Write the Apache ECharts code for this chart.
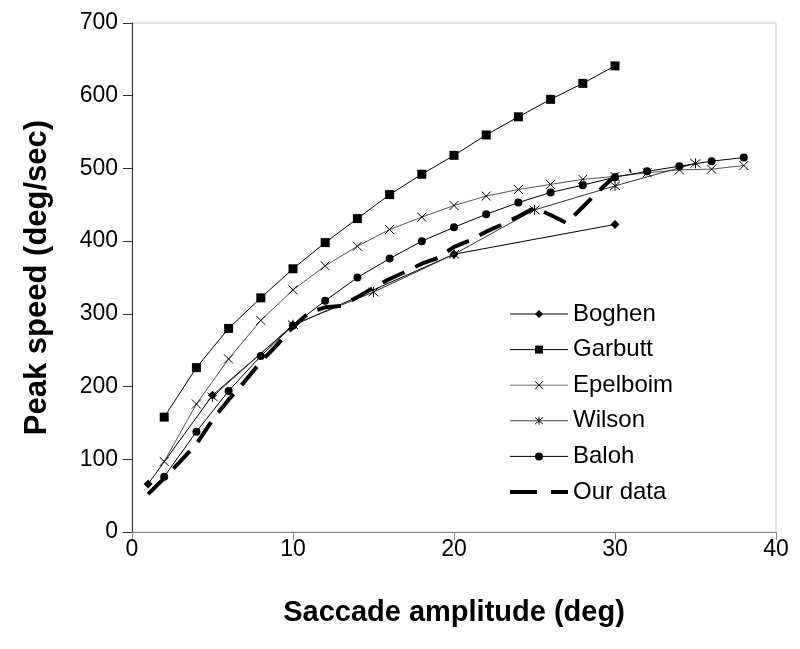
<!DOCTYPE html>
<html><head><meta charset="utf-8">
<script src="https://cdn.jsdelivr.net/npm/echarts@6/dist/echarts.min.js"></script>
<style>html,body{margin:0;padding:0;background:#fff}#c{width:800px;height:649px}</style>
</head><body><div id="c"></div>
<script>
const boghenX = [1, 5, 10, 20, 30];
const boghenY = [66, 188, 284, 382, 423];
const garbuttX = [2, 4, 6, 8, 10, 12, 14, 16, 18, 20, 22, 24, 26, 28, 30];
const garbuttY = [158, 226, 280, 322, 362, 398, 431, 464, 492, 518, 546, 571, 595, 617, 641];
const epelboimX = [2, 4, 6, 8, 10, 12, 14, 16, 18, 20, 22, 24, 26, 28, 30, 32, 34, 36, 38];
const epelboimY = [97, 176, 238, 291, 333, 366, 393, 416, 433, 449, 462, 471, 478, 485, 489, 494, 498, 499, 504];
const wilsonX = [5, 10, 15, 20, 25, 30, 35];
const wilsonY = [186, 285, 330, 382, 443, 476, 507];
const balohX = [2, 4, 6, 8, 10, 12, 14, 16, 18, 20, 22, 24, 26, 28, 30, 32, 34, 36, 38];
const balohY = [76, 138, 194, 242, 284, 318, 350, 376, 400, 419, 437, 453, 467, 477, 488, 496, 503, 510, 515];
const ourX = [1, 2, 3, 4, 5, 6, 7, 8, 9, 10, 11, 12, 13, 14, 15, 16, 17, 18, 19, 20, 21, 22, 23, 24, 25, 26, 27, 28, 29, 30, 31];
const ourY = [52, 74, 97, 121, 154, 182, 207, 234, 257, 282, 302, 309, 311, 323, 336, 348, 358, 369, 377, 392, 401, 413, 423, 434, 446, 436, 425, 447, 469, 490, 497];
const seriesNames = ['Boghen', 'Garbutt', 'Epelboim', 'Wilson', 'Baloh', 'Our data'];
const xTicks = { min: 0, max: 40, step: 10 };
const yTicks = { min: 0, max: 700, step: 100 };

function pairs(xs, ys) { return xs.map((x, i) => [x, ys[i]]); }
const FONT = "'Liberation Sans', Arial, sans-serif";
const crossPath = 'path://M0,0L10,10M10,0L0,10';
const starPath = 'path://M0,0L10,10M10,0L0,10M5,-1L5,11';

function thin(name, xs, ys, symbol, size, lineColor, stroked) {
  return {
    name: name, type: 'line', data: pairs(xs, ys),
    symbol: symbol, symbolSize: size, showSymbol: true,
    lineStyle: { color: lineColor, width: 1 },
    itemStyle: stroked ? { color: 'rgba(0,0,0,0)', borderColor: '#000', borderWidth: 1 } : { color: '#000', borderWidth: 0 },
    emphasis: { disabled: true }, animation: false, z: 2
  };
}

const chart = echarts.init(document.getElementById('c'), null, { renderer: 'canvas' });
chart.setOption({
  backgroundColor: '#fff',
  animation: false,
  grid: { left: 132, right: 24, top: 23, bottom: 117, show: true, borderColor: '#c8c8c8', borderWidth: 1, backgroundColor: 'transparent' },
  xAxis: {
    type: 'value', min: xTicks.min, max: xTicks.max, interval: xTicks.step,
    name: 'Saccade amplitude (deg)', nameLocation: 'middle', nameGap: 66,
    nameTextStyle: { fontFamily: FONT, fontSize: 29, fontWeight: 'bold', color: '#000' },
    axisLine: { show: true, lineStyle: { color: '#868686', width: 1 } },
    axisTick: { show: true, inside: false, length: 8, lineStyle: { color: '#868686' } },
    axisLabel: { fontFamily: FONT, fontSize: 23, color: '#000', margin: 6 },
    splitLine: { show: false }
  },
  yAxis: {
    type: 'value', min: yTicks.min, max: yTicks.max, interval: yTicks.step,
    name: 'Peak speed (deg/sec)', nameLocation: 'middle', nameGap: 79, nameRotate: 90,
    nameTextStyle: { fontFamily: FONT, fontSize: 31, fontWeight: 'bold', color: '#000' },
    axisLine: { show: true, lineStyle: { color: '#333', width: 1 } },
    axisTick: { show: true, inside: false, length: 9, lineStyle: { color: '#333' } },
    axisLabel: { fontFamily: FONT, fontSize: 23, color: '#000', margin: 14 },
    splitLine: { show: false }
  },
  legend: {
    orient: 'vertical', left: 503, top: 296,
    itemWidth: 58, itemHeight: 10, itemGap: 9.6,
    textStyle: { fontFamily: FONT, fontSize: 24, color: '#000', lineHeight: 26 },
    selectedMode: false,
    data: [
      { name: 'Boghen', lineStyle: { width: 1, color: '#000' } },
      { name: 'Garbutt', lineStyle: { width: 1, color: '#000' } },
      { name: 'Epelboim', lineStyle: { width: 1.5, color: '#999' }, itemStyle: { color: 'rgba(0,0,0,0)', borderColor: '#000', borderWidth: 1 } },
      { name: 'Wilson', lineStyle: { width: 1, color: '#444' }, itemStyle: { color: 'rgba(0,0,0,0)', borderColor: '#000', borderWidth: 1 } },
      { name: 'Baloh', lineStyle: { width: 1, color: '#000' } },
      { name: 'Our data', lineStyle: { width: 4, color: '#000', type: [27, 14] }, itemStyle: { color: 'rgba(0,0,0,0)', borderWidth: 0 } }
    ]
  },
  series: [
    thin(seriesNames[0], boghenX, boghenY, 'diamond', 9, '#000', false),
    thin(seriesNames[1], garbuttX, garbuttY, 'rect', 9, '#000', false),
    thin(seriesNames[2], epelboimX, epelboimY, crossPath, 9, '#555', true),
    thin(seriesNames[3], wilsonX, wilsonY, starPath, 10, '#333', true),
    thin(seriesNames[4], balohX, balohY, 'circle', 8, '#000', false),
    {
      name: seriesNames[5], type: 'line', data: pairs(ourX, ourY),
      symbol: 'none', showSymbol: false,
      lineStyle: { color: '#000', width: 4, type: [24, 12] },
      itemStyle: { color: '#000' },
      emphasis: { disabled: true }, animation: false, z: 3
    }
  ]
});
</script>
</body></html>
